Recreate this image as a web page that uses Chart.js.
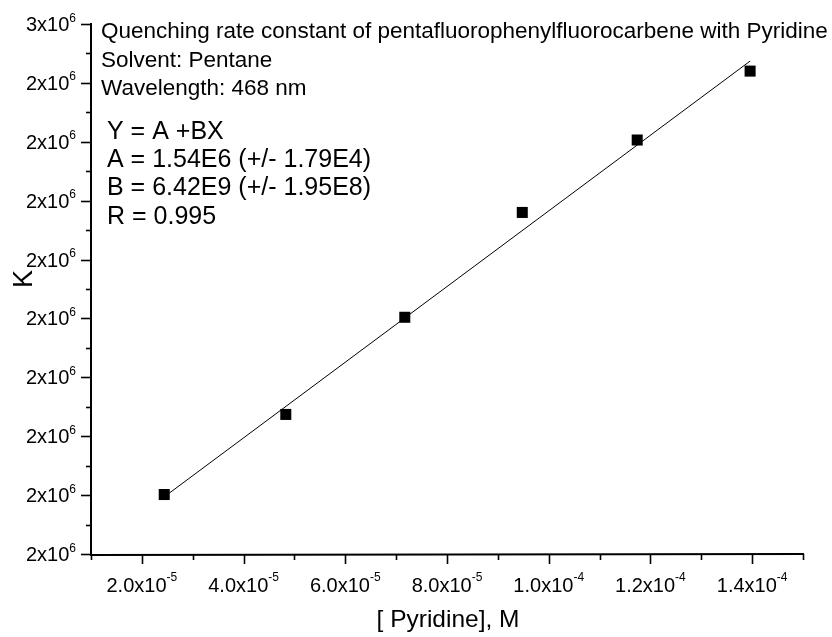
<!DOCTYPE html>
<html><head><meta charset="utf-8">
<script src="https://cdn.jsdelivr.net/npm/chart.js@4/dist/chart.umd.min.js"></script>
<style>html,body{margin:0;padding:0;background:#fff}canvas{display:block}</style>
</head><body>
<canvas id="c" width="832" height="637"></canvas>
<script>
// ---- data ----
const pyridineConc = [2.44e-5, 4.83e-5, 7.17e-5, 9.48e-5, 1.174e-4, 1.396e-4];
const rateK = [1.701e6, 1.837e6, 2.002e6, 2.180e6, 2.303e6, 2.420e6];
const fitX = [2.44e-5, 1.396e-4];
const fitY = [1.697e6, 2.437e6];

const xTickValues = [2e-5, 4e-5, 6e-5, 8e-5, 1e-4, 1.2e-4, 1.4e-4];
const xTickMantissas = ["2.0", "4.0", "6.0", "8.0", "1.0", "1.2", "1.4"];
const xTickExponents = ["-5", "-5", "-5", "-5", "-4", "-4", "-4"];
const xMinorTickValues = [1e-5, 3e-5, 5e-5, 7e-5, 9e-5, 1.1e-4, 1.3e-4, 1.5e-4];

const yTickValues = [1.6e6, 1.7e6, 1.8e6, 1.9e6, 2.0e6, 2.1e6, 2.2e6, 2.3e6, 2.4e6, 2.5e6];
const yTickMantissas = ["2", "2", "2", "2", "2", "2", "2", "2", "2", "3"];
const yTickExponents = ["6", "6", "6", "6", "6", "6", "6", "6", "6", "6"];
const yMinorTickValues = [1.65e6, 1.75e6, 1.85e6, 1.95e6, 2.05e6, 2.15e6, 2.25e6, 2.35e6, 2.45e6];

const titleLines = [
  "Quenching rate constant of pentafluorophenylfluorocarbene with Pyridine",
  "Solvent: Pentane",
  "Wavelength: 468 nm"
];
const fitLines = [
  "Y = A +BX",
  "A = 1.54E6 (+/- 1.79E4)",
  "B = 6.42E9 (+/- 1.95E8)",
  "R = 0.995"
];
const xAxisTitle = "[ Pyridine], M";
const yAxisTitle = "K";

const FONT = '"Liberation Sans", Arial, sans-serif';

function drawSup(ctx, mant, exp, x, y, align, size, supSize, supRise) {
  ctx.font = size + 'px ' + FONT;
  const wm = ctx.measureText(mant + "x10").width;
  ctx.font = supSize + 'px ' + FONT;
  const ws = ctx.measureText(exp).width;
  let start = x;
  if (align === 'right') start = x - wm - ws;
  else if (align === 'center') start = x - (wm + ws) / 2;
  ctx.textAlign = 'left';
  ctx.textBaseline = 'alphabetic';
  ctx.font = size + 'px ' + FONT;
  ctx.fillText(mant + "x10", start, y);
  ctx.font = supSize + 'px ' + FONT;
  ctx.fillText(exp, start + wm, y - supRise);
}

const axesPlugin = {
  id: 'originAxes',
  afterDraw(chart) {
    const ctx = chart.ctx;
    const xs = chart.scales.x, ys = chart.scales.y;
    const ca = chart.chartArea;
    ctx.save();
    ctx.strokeStyle = '#000';
    ctx.fillStyle = '#000';
    ctx.lineWidth = 2;
    ctx.lineCap = 'butt';
    // axis lines
    ctx.beginPath();
    ctx.moveTo(ca.left, ca.top - 1);
    ctx.lineTo(ca.left, ca.bottom + 1);
    ctx.lineTo(ca.right + 1, ca.bottom);
    ctx.stroke();
    // x ticks
    ctx.lineWidth = 1.6;
    xTickValues.forEach(v => {
      const px = Math.round(xs.getPixelForValue(v)) + 0.5;
      ctx.beginPath(); ctx.moveTo(px, ca.bottom); ctx.lineTo(px, ca.bottom + 10); ctx.stroke();
    });
    xMinorTickValues.forEach(v => {
      const px = Math.round(xs.getPixelForValue(v)) + 0.5;
      ctx.beginPath(); ctx.moveTo(px, ca.bottom); ctx.lineTo(px, ca.bottom + 6); ctx.stroke();
    });
    // y ticks
    yTickValues.forEach(v => {
      const py = Math.round(ys.getPixelForValue(v)) + 0.5;
      ctx.beginPath(); ctx.moveTo(ca.left, py); ctx.lineTo(ca.left - 10, py); ctx.stroke();
    });
    yMinorTickValues.forEach(v => {
      const py = Math.round(ys.getPixelForValue(v)) + 0.5;
      ctx.beginPath(); ctx.moveTo(ca.left, py); ctx.lineTo(ca.left - 5, py); ctx.stroke();
    });
    // tick labels
    xTickValues.forEach((v, i) => {
      const px = xs.getPixelForValue(v);
      drawSup(ctx, xTickMantissas[i], xTickExponents[i], px, ca.bottom + 38, 'center', 20, 12, 11);
    });
    yTickValues.forEach((v, i) => {
      const py = ys.getPixelForValue(v);
      drawSup(ctx, yTickMantissas[i], yTickExponents[i], ca.left - 15, py + 7, 'right', 20, 12, 9.5);
    });
    // axis titles
    ctx.font = '24.5px ' + FONT;
    ctx.textAlign = 'center';
    ctx.textBaseline = 'alphabetic';
    ctx.fillText(xAxisTitle, (ca.left + ca.right) / 2 + 1, 627);
    ctx.save();
    ctx.translate(32, 279);
    ctx.rotate(-Math.PI / 2);
    ctx.font = '27px ' + FONT;
    ctx.fillText(yAxisTitle, 0, 0);
    ctx.restore();
    // annotations
    ctx.textAlign = 'left';
    ctx.font = '22.5px ' + FONT;
    titleLines.forEach((t, i) => ctx.fillText(t, 101, 38 + i * 28.5));
    ctx.font = '25px ' + FONT;
    fitLines.forEach((t, i) => ctx.fillText(t, 107, 138.5 + i * 28.4));
    ctx.restore();
  }
};

new Chart(document.getElementById('c'), {
  type: 'scatter',
  data: {
    datasets: [
      {
        type: 'line',
        data: fitX.map((x, i) => ({ x: x, y: fitY[i] })),
        borderColor: '#000',
        borderWidth: 1,
        pointRadius: 0,
        fill: false,
        tension: 0
      },
      {
        data: pyridineConc.map((x, i) => ({ x: x, y: rateK[i] })),
        pointStyle: 'rect',
        pointRadius: 7.8,
        pointBorderWidth: 0,
        backgroundColor: '#000',
        borderColor: '#000'
      }
    ]
  },
  options: {
    responsive: false,
    animation: false,
    devicePixelRatio: 1,
    layout: { padding: { left: 91, right: 29, top: 24, bottom: 83 } },
    plugins: { legend: { display: false }, tooltip: { enabled: false } },
    scales: {
      x: { type: 'linear', min: 1e-5, max: 1.5e-4, display: false },
      y: { type: 'linear', min: 1.6e6, max: 2.5e6, display: false }
    }
  },
  plugins: [axesPlugin]
});
</script>
</body></html>
